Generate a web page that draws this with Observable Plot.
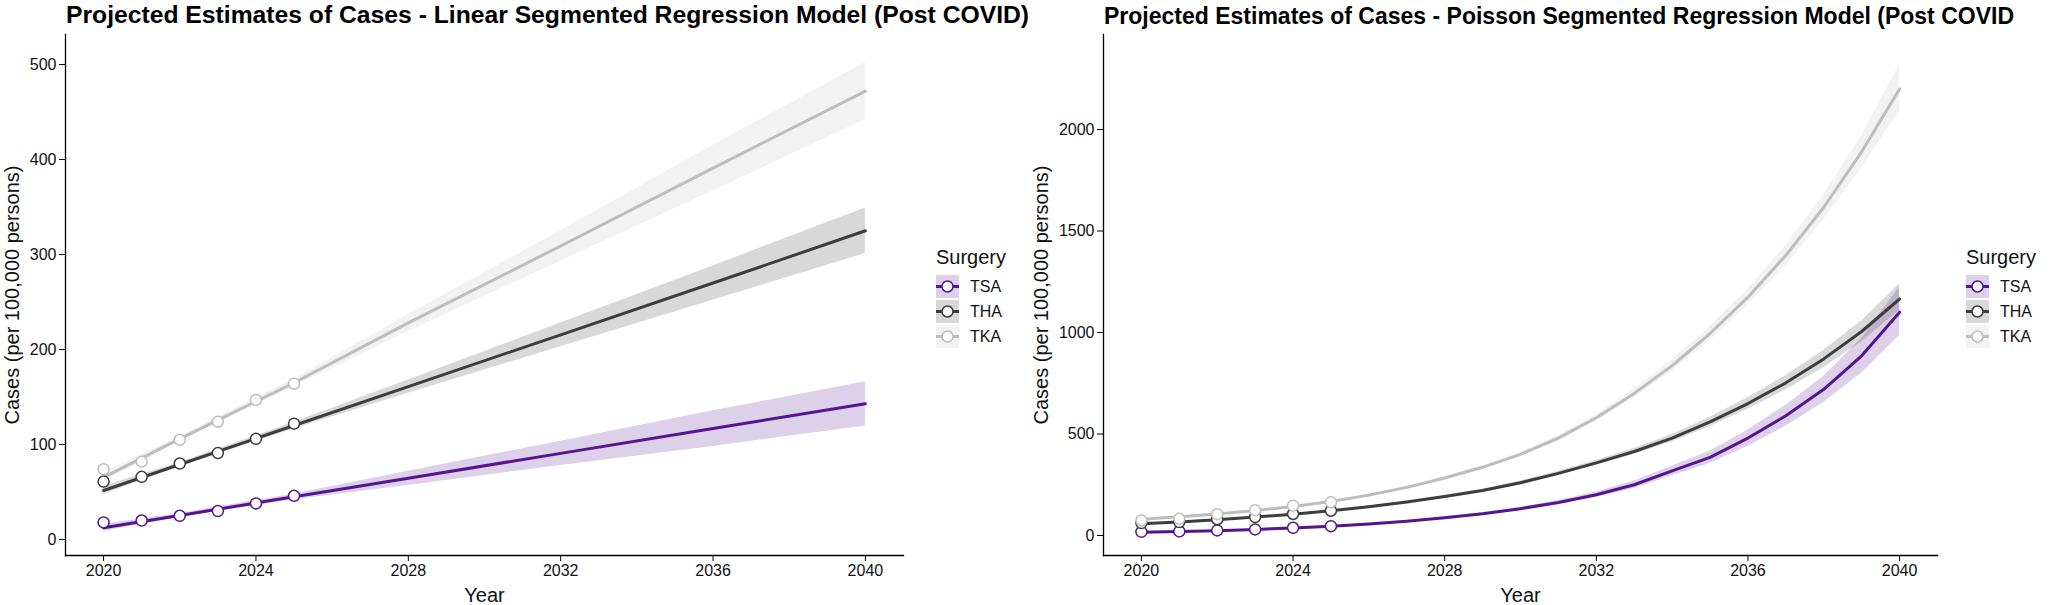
<!DOCTYPE html>
<html>
<head>
<meta charset="utf-8">
<script src="https://cdn.jsdelivr.net/npm/d3@7"></script>
<script src="https://cdn.jsdelivr.net/npm/@observablehq/plot@0.6"></script>
<style>
  body { margin: 0; background: #fff; font-family: "Liberation Sans", Arial, sans-serif; }
  #wrap { position: relative; width: 2060px; height: 605px; overflow: hidden; background: #fff; }
  .title { position: absolute; font-weight: bold; white-space: nowrap; color: #000; }
  #t1 { top: 3px; font-size: 24.7px; line-height: 24.7px; }
  #t2 { top: 4.5px; font-size: 23px; line-height: 23px; }
  .panel { position: absolute; top: 0; }
  .panel [aria-label="x-axis label"], .panel [aria-label="y-axis label"] { font-size: 20px; }
  .legend { position: absolute; top: 246px; font-size: 16px; color: #111; }
  .legend .lt { font-size: 20px; line-height: 22px; margin-bottom: 6px; }
  .legend .row { display: flex; align-items: center; height: 25px; }
  .legend .row svg { display: block; margin-right: 11px; }
</style>
</head>
<body>
<div id="wrap"></div>
<script>
// ---- data ----
const seriesNames = ["TSA", "THA", "TKA"];
const seriesColors = ["#55158f", "#3d3d3d", "#bdbdbd"];
const xTicks = [2020, 2024, 2028, 2032, 2036, 2040];
const leftYTicks = [0, 100, 200, 300, 400, 500];
const rightYTicks = [0, 500, 1000, 1500, 2000];

// observed rates (per 100,000)
const obsYears = [2020, 2021, 2022, 2023, 2024, 2025];
const obsTSA = [18, 20, 25, 30, 38, 46];
const obsTHA = [61, 66, 80, 91, 106, 122];
const obsTKA = [74, 82, 105, 124, 147, 164];

// linear segmented regression projections
const linYears = [2020, 2022, 2025, 2028, 2032, 2036, 2040];
const linTSA   = [12.3, 25.4, 45, 64.6, 90.7, 116.9, 143];
const linTSAlo = [8.5, 23.5, 42, 57, 78, 98, 119.5];
const linTSAhi = [16, 27.5, 48, 72, 103.5, 135.5, 166];
const linTHA   = [51.6, 79, 120, 161, 215.5, 270, 325];
const linTHAlo = [47.5, 77, 116.5, 154, 203, 252, 301];
const linTHAhi = [56, 81, 123.5, 168, 228, 288, 349];
const linTKA   = [65.5, 106, 165, 228, 309, 391, 472];
const linTKAlo = [60.5, 103.5, 161, 219, 293, 367, 442];
const linTKAhi = [70.5, 108.5, 169, 237, 325, 415, 502];

// poisson segmented regression projections
const poiYears = [2020, 2021, 2022, 2023, 2024, 2025, 2026, 2027, 2028, 2029, 2030,
                  2031, 2032, 2033, 2034, 2035, 2036, 2037, 2038, 2039, 2040];
const poiTSA   = [16, 20, 24, 30, 37, 46, 57, 70, 87, 107, 132, 163, 201, 250, 318, 385, 480, 590, 720, 885, 1100];
const poiTSAlo = [15, 19, 23, 29, 36, 45, 55, 67, 83, 102, 125, 153, 188, 232, 294, 355, 440, 538, 655, 800, 985];
const poiTSAhi = [17, 21, 25, 31, 38, 47, 59, 73, 91, 112, 139, 173, 214, 268, 342, 415, 520, 642, 785, 970, 1223];
const poiTHA   = [58, 67, 78, 91, 105, 122, 142, 165, 192, 222, 260, 306, 358, 414, 480, 560, 650, 752, 870, 1005, 1165];
const poiTHAlo = [56, 65, 76, 89, 103, 120, 139, 161, 187, 216, 252, 296, 346, 399, 462, 537, 622, 717, 828, 953, 1110];
const poiTHAhi = [60, 69, 80, 93, 107, 124, 145, 169, 197, 228, 268, 316, 370, 429, 498, 583, 678, 787, 912, 1057, 1240];
const poiTKA   = [80, 92, 106, 123, 143, 167, 199, 237, 283, 336, 400, 480, 580, 700, 837, 995, 1174, 1380, 1617, 1890, 2200];
const poiTKAlo = [77, 89, 103, 120, 140, 164, 195, 232, 277, 328, 390, 467, 564, 679, 810, 961, 1135, 1330, 1555, 1810, 2094];
const poiTKAhi = [83, 95, 109, 126, 146, 170, 203, 242, 289, 344, 410, 493, 596, 721, 864, 1029, 1213, 1430, 1679, 1970, 2323];

// ---- tables ----
function longTable(years, arrays) {
  const out = [];
  seriesNames.forEach((s, i) => {
    const [v, lo, hi] = arrays[i];
    years.forEach((y, j) => out.push({series: s, year: y, value: v[j], lo: lo ? lo[j] : null, hi: hi ? hi[j] : null}));
  });
  return out;
}
const observed = longTable(obsYears, [[obsTSA], [obsTHA], [obsTKA]]);
const linear = longTable(linYears, [[linTSA, linTSAlo, linTSAhi], [linTHA, linTHAlo, linTHAhi], [linTKA, linTKAlo, linTKAhi]]);
const poisson = longTable(poiYears, [[poiTSA, poiTSAlo, poiTSAhi], [poiTHA, poiTHAlo, poiTHAhi], [poiTKA, poiTKAlo, poiTKAhi]]);

function panel({fit, yDomain, yTicks, width, marginLeft, marginRight, yLabelOffset}) {
  return Plot.plot({
    width, height: 605,
    marginLeft, marginRight, marginTop: 34, marginBottom: 50,
    style: {fontFamily: "'Liberation Sans', Arial, sans-serif", fontSize: "16px", color: "#111", background: "transparent", overflow: "visible"},
    x: {domain: [2019, 2041]},
    y: {domain: yDomain},
    color: {domain: seriesNames, range: seriesColors},
    marks: [
      Plot.areaY(fit, {x: "year", y1: "lo", y2: "hi", fill: "series", fillOpacity: 0.2}),
      Plot.line(fit, {x: "year", y: "value", stroke: "series", strokeWidth: 3}),
      Plot.dot(observed, {x: "year", y: "value", stroke: "series", fill: "white", r: 5.5, strokeWidth: 1.5}),
      Plot.frame({anchor: "left", stroke: "#000", strokeWidth: 1.3}),
      Plot.frame({anchor: "bottom", stroke: "#000", strokeWidth: 1.3}),
      Plot.axisX({ticks: xTicks, tickFormat: "d", tickSize: 6, tickPadding: 3, stroke: "#000",
                  label: "Year", labelAnchor: "center", labelArrow: "none", labelOffset: 46}),
      Plot.axisY({ticks: yTicks, tickFormat: "d", tickSize: 6, tickPadding: 3, stroke: "#000",
                  label: "Cases (per 100,000 persons)", labelAnchor: "center", labelArrow: "none", labelOffset: yLabelOffset})
    ]
  });
}

function legend(left) {
  const div = document.createElement("div");
  div.className = "legend";
  div.style.left = left + "px";
  const t = document.createElement("div");
  t.className = "lt"; t.textContent = "Surgery";
  div.appendChild(t);
  seriesNames.forEach((s, i) => {
    const row = document.createElement("div");
    row.className = "row";
    const svg = d3.create("svg").attr("width", 23).attr("height", 23);
    svg.append("rect").attr("width", 23).attr("height", 23).attr("fill", seriesColors[i]).attr("fill-opacity", 0.2);
    svg.append("line").attr("x1", 0).attr("x2", 23).attr("y1", 11.5).attr("y2", 11.5).attr("stroke", seriesColors[i]).attr("stroke-width", 3);
    svg.append("circle").attr("cx", 11.5).attr("cy", 11.5).attr("r", 5.5).attr("fill", "white").attr("stroke", seriesColors[i]).attr("stroke-width", 1.5);
    row.appendChild(svg.node());
    const lab = document.createElement("span");
    lab.textContent = s;
    row.appendChild(lab);
    div.appendChild(row);
  });
  return div;
}

const wrap = document.getElementById("wrap");

const t1 = document.createElement("div");
t1.className = "title"; t1.id = "t1"; t1.style.left = "66px";
t1.textContent = "Projected Estimates of Cases - Linear Segmented Regression Model (Post COVID)";
wrap.appendChild(t1);
const t2 = document.createElement("div");
t2.className = "title"; t2.id = "t2"; t2.style.left = "1104px";
t2.textContent = "Projected Estimates of Cases - Poisson Segmented Regression Model (Post COVID";
wrap.appendChild(t2);

const p1 = panel({fit: linear, yDomain: [-16.8, 531.6], yTicks: leftYTicks, width: 910, marginLeft: 65, marginRight: 7, yLabelOffset: 61});
p1.classList.add("panel"); p1.style.left = "0px";
wrap.appendChild(p1);

const p2 = panel({fit: poisson, yDomain: [-98.5, 2468], yTicks: rightYTicks, width: 910, marginLeft: 73, marginRight: 3, yLabelOffset: 70});
p2.classList.add("panel"); p2.style.left = "1030px";
wrap.appendChild(p2);

wrap.appendChild(legend(936));
wrap.appendChild(legend(1966));
</script>
</body>
</html>
